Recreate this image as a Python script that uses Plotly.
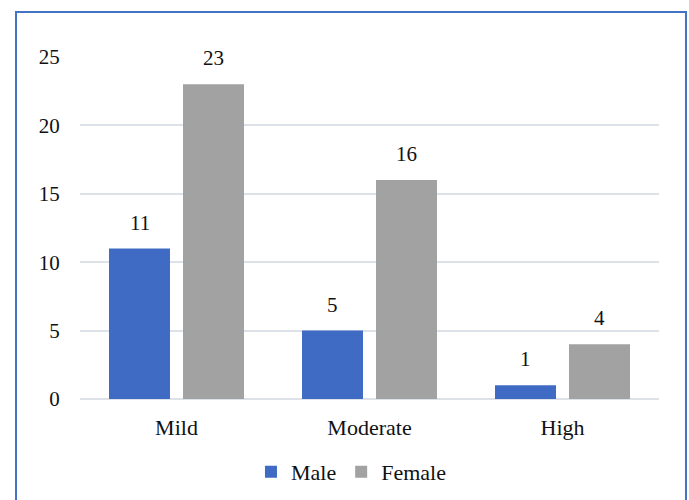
import plotly.graph_objects as go

# Severity categories and counts per sex
categories = ["Mild", "Moderate", "High"]
male_counts = [11, 5, 1]
female_counts = [23, 16, 4]
y_ticks = [0, 5, 10, 15, 20, 25]

FONT = "Liberation Serif"
MALE_COLOR = "#3f6bc5"
FEMALE_COLOR = "#a2a2a2"
GRID = "#dde1e8"
TEXT = "#111111"

fig = go.Figure()
fig.add_trace(go.Bar(name="Male", x=categories, y=male_counts,
                     marker=dict(color=MALE_COLOR, line=dict(width=0))))
fig.add_trace(go.Bar(name="Female", x=categories, y=female_counts,
                     marker=dict(color=FEMALE_COLOR, line=dict(width=0))))

# Value labels floating above each bar
slot_px = 37
for vals, shift in ((male_counts, -slot_px), (female_counts, slot_px)):
    for cat, v in zip(categories, vals):
        fig.add_annotation(x=cat, y=v, text=str(v), showarrow=False,
                           xshift=shift, yshift=12, yanchor="bottom",
                           font=dict(family=FONT, size=21, color=TEXT))

# Blue frame around the whole chart
fig.add_shape(type="rect", xref="paper", yref="paper",
              x0=-0.1105, x1=1.0466, y0=-0.33, y1=1.1316,
              line=dict(color="#4472c4", width=2), fillcolor="rgba(0,0,0,0)",
              layer="below")

fig.update_layout(
    width=689, height=500,
    margin=dict(l=80, r=30, t=57, b=101, autoexpand=False),
    paper_bgcolor="white", plot_bgcolor="white",
    barmode="group", bargap=0.233, bargroupgap=0.176,
    font=dict(family=FONT, size=21, color=TEXT),
    showlegend=True,
    legend=dict(orientation="h", x=0.468, xanchor="center",
                y=-0.213, yanchor="middle",
                font=dict(family=FONT, size=22, color=TEXT),
                itemwidth=30, tracegroupgap=0),
    xaxis=dict(showgrid=False, zeroline=False, showline=False,
               tickfont=dict(family=FONT, size=22, color=TEXT),
               ticks="outside", ticklen=9, tickcolor="rgba(0,0,0,0)"),
    yaxis=dict(range=[0, 25], tickvals=y_ticks, showgrid=True,
               gridcolor=GRID, gridwidth=1.5, zeroline=True,
               zerolinecolor=GRID, zerolinewidth=1.5, showline=False,
               tickfont=dict(family=FONT, size=21, color=TEXT),
               ticks="outside", ticklen=15, tickcolor="rgba(0,0,0,0)"),
)

fig.write_html("out.html")
